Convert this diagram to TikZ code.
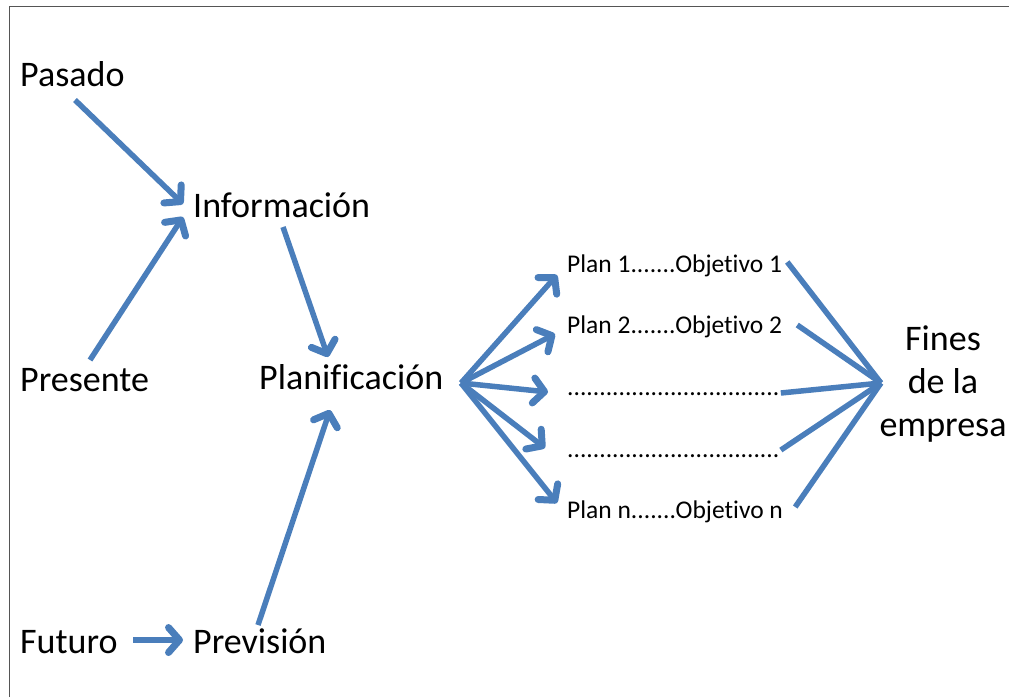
\documentclass[tikz,border=0pt]{standalone}
\usepackage{fontspec}
\setmainfont[Ligatures={NoCommon}]{Carlito}
\usetikzlibrary{arrows.meta}
\definecolor{flow}{HTML}{4A7EBB}
\definecolor{frame}{HTML}{555555}
\tikzset{
  big/.style={inner sep=0pt, anchor=base west, font=\fontsize{36}{43}\selectfont},
  small/.style={inner sep=0pt, anchor=base west, font=\fontsize{25.5}{30}\selectfont},
  arr/.style={draw=flow, line width=5.5pt,
    -{Straight Barb[length=11pt,width=25pt,line width=7pt 0,round]}},
  link/.style={draw=flow, line width=5.5pt},
}
\begin{document}
\begin{tikzpicture}[x=1pt,y=-1pt]
  \useasboundingbox (0,0) rectangle (1009,697);
  % partial frame: top and left edges only
  \draw[frame, line width=1.6pt] (9.5,697) -- (9.5,6.5) -- (1009,6.5);

  % time sources and inputs
  \node[big] (pasado)   at (20,86)   {Pasado};
  \node[big] (presente) at (20,391)  {Presente};
  \node[big] (futuro)   at (20,653)  {Futuro};
  \node[big] (info)     at (193,217) {Información};
  \node[big] (plan)     at (259,389) {Planificación};
  \node[big] (prev)     at (193,653) {Previsión};

  % plans and objectives
  \node[small] (p1) at (567,272) {Plan 1.......Objetivo 1};
  \node[small] (p2) at (567,333) {Plan 2.......Objetivo 2};
  \node[small] (d1) at (567,395) {.................................};
  \node[small] (d2) at (567,457) {.................................};
  \node[small] (pn) at (567,518) {Plan n.......Objetivo n};

  % goal
  \node[inner sep=0pt, align=center, font=\fontsize{36}{43}\selectfont,
        anchor=base] (fines) at (943,436) {Fines\\de la\\empresa};

  % hubs where the fans meet
  \coordinate (hubL) at (461,383);
  \coordinate (hubR) at (881,383);

  % inputs to Información and Planificación
  \draw[arr] ([xshift=55pt,yshift=-14pt]pasado.base west) -- ([xshift=-10pt,yshift=13pt]info.base west);
  \draw[arr] ([xshift=70pt,yshift=31pt]presente.base west) -- ([xshift=-10pt,yshift=0pt]info.base west);
  \draw[arr] ([xshift=90pt,yshift=-10pt]info.base west) -- ([xshift=69pt,yshift=32pt]plan.base west);
  \draw[arr] ([xshift=65pt,yshift=28pt]prev.base west) -- ([xshift=71pt,yshift=-21pt]plan.base west);
  \draw[arr] ([xshift=113pt,yshift=13pt]futuro.base west) -- ([xshift=-10pt,yshift=13pt]prev.base west);

  % fan from Planificación to the plans
  \draw[arr] (hubL) -- ([xshift=-10pt,yshift=-3pt]p1.base west);
  \draw[arr] (hubL) -- ([xshift=-12pt,yshift=-1pt]p2.base west);
  \draw[arr] (hubL) -- ([xshift=-19pt,yshift=3pt]d1.base west);
  \draw[arr] (hubL) -- ([xshift=-22pt,yshift=9pt]d2.base west);
  \draw[arr] (hubL) -- ([xshift=-10pt,yshift=15pt]pn.base west);

  % objectives converge on the goal
  \draw[link] ([xshift=5pt,yshift=10pt]p1.base east) -- (hubR);
  \draw[link] ([xshift=15pt,yshift=8pt]p2.base east) -- (hubR);
  \draw[link] ([xshift=1pt,yshift=2pt]d1.base east) -- (hubR);
  \draw[link] ([xshift=1pt,yshift=7pt]d2.base east) -- (hubR);
  \draw[link] ([xshift=12pt,yshift=11pt]pn.base east) -- (hubR);
\end{tikzpicture}
\end{document}
